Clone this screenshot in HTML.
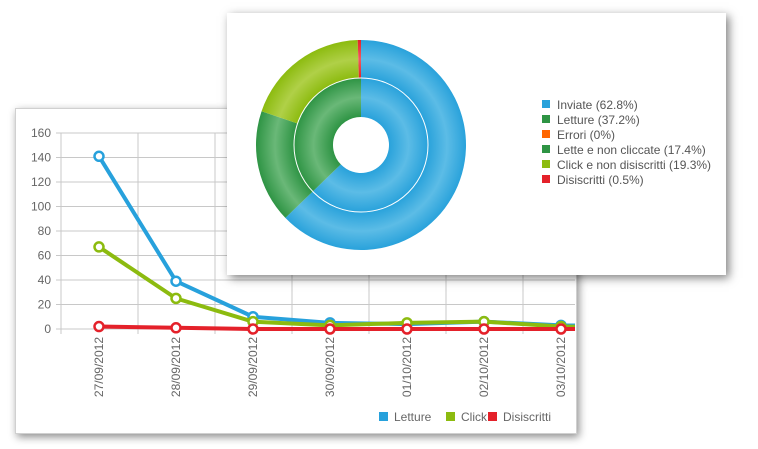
<!DOCTYPE html>
<html><head><meta charset="utf-8">
<style>
body{margin:0;width:758px;height:449px;background:#fff;position:relative;overflow:hidden;font-family:"Liberation Sans",sans-serif}
#line-panel{position:absolute;left:15px;top:108px;width:560px;height:324px;background:#fff;border:1px solid #d0d0d0;box-shadow:2px 3px 8px rgba(0,0,0,.45)}
#pie-panel{position:absolute;left:227px;top:13px;width:499px;height:262px;background:#fff;box-shadow:3px 3px 9px rgba(0,0,0,.5)}
svg text{font-family:"Liberation Sans",sans-serif}
</style></head><body>
<div id="line-panel"></div>
<svg id="line" width="758" height="449" style="position:absolute;left:0;top:0"></svg>
<div id="pie-panel"></div>
<svg id="pie" width="758" height="449" style="position:absolute;left:0;top:0"></svg>
<script>
const categories=["27/09/2012","28/09/2012","29/09/2012","30/09/2012","01/10/2012","02/10/2012","03/10/2012","04/10/2012"];
const letture=[141,39,10,5,4,6,3,2];
const click=[67,25,6,3,5,6,2,1];
const disiscritti=[2,1,0,0,0,0,0,0];
const yTicks=[0,20,40,60,80,100,120,140,160];
const pieLabels=["Inviate (62.8%)","Letture (37.2%)","Errori (0%)","Lette e non cliccate (17.4%)","Click e non disiscritti (19.3%)","Disiscritti (0.5%)"];
const outerValues=[62.8,17.4,19.3,0.5];
const innerValues=[62.8,37.2];

const NS="http://www.w3.org/2000/svg";
function mk(p,t,a){const e=document.createElementNS(NS,t);for(const k in a)e.setAttribute(k,a[k]);p.appendChild(e);return e;}
const L=document.getElementById('line');
const x=i=>99+i*77, y=v=>329-v*1.225;
const cg=mk(L,'g',{});


mk(cg,'clipPath',{id:'cp'});
mk(document.getElementById('cp'),'rect',{x:16,y:109,width:559,height:323});
const g=mk(L,'g',{'clip-path':'url(#cp)'});
yTicks.forEach(t=>{
  const l=mk(g,'line',{x1:56,x2:600,y1:y(t),y2:y(t),stroke:'#c8c8c8','stroke-width':1});
  
  
  const tx=mk(L,'text',{x:51,y:y(t)+4,'text-anchor':'end','font-size':12,fill:'#666'});
  tx.textContent=t;
  
  
});
for(let i=0;i<8;i++){
  const gx=61+i*77;
  const l=mk(g,'line',{x1:gx,x2:gx,y1:y(160),y2:334,stroke:'#c8c8c8','stroke-width':1});
  
  
}
categories.forEach((c,i)=>{
  const t=mk(g,'text',{x:0,y:0,transform:`translate(${x(i)+4},337) rotate(-90)`,'text-anchor':'end','font-size':12,fill:'#666'});
  t.textContent=c;
  
  
});
function series(vals,col,name){
  const p=mk(g,'polyline',{points:vals.map((v,i)=>x(i)+','+y(v)).join(' '),fill:'none',stroke:col,'stroke-width':4,'stroke-linejoin':'round'});
  
  
  vals.forEach((v,i)=>{
    const c=mk(g,'circle',{cx:x(i),cy:y(v),r:4.5,fill:'#fff',stroke:col,'stroke-width':2.5});
    
    
  });
}
series(letture,'#27a1dc','letture');
series(click,'#8cbb0f','click');
series(disiscritti,'#e4212a','disiscritti');
[["Letture",'#27a1dc',379],["Click",'#8cbb0f',446],["Disiscritti",'#e4212a',488]].forEach(([n,c,lx])=>{
  const r=mk(L,'rect',{x:lx,y:412,width:9,height:9,fill:c});
  
  
  const t=mk(L,'text',{x:lx+15,y:421,'font-size':12,fill:'#666'});
  t.textContent=n;
  
  
});

const P=document.getElementById('pie');
const cx=361,cy=145;
const defs=mk(P,'defs',{});
function grad(id,c1,c2,r0,r1){
  const rg=mk(defs,'radialGradient',{id:id,cx:cx,cy:cy,r:r1,gradientUnits:'userSpaceOnUse'});
  const f=r0/r1,m=(1+f)/2;
  mk(rg,'stop',{offset:f,'stop-color':c1});
  mk(rg,'stop',{offset:m,'stop-color':c2});
  mk(rg,'stop',{offset:1,'stop-color':c1});
}
const colsO=[['#29a2db','#5cbce6'],['#2e9444','#6ab878'],['#8cbb0f','#b0d048'],['#e4212a','#f05a60']];
const colsI=[['#29a2db','#5cbce6'],['#2e9444','#6ab878']];
colsO.forEach((c,i)=>grad('go'+i,c[0],c[1],67,105));
colsI.forEach((c,i)=>grad('gi'+i,c[0],c[1],28,67));
function arc(r0,r1,a0,a1){
  const p=(r,a)=>[cx+r*Math.sin(a),cy-r*Math.cos(a)];
  const lg=(a1-a0)>Math.PI?1:0;
  const [x1,y1]=p(r1,a0),[x2,y2]=p(r1,a1),[x3,y3]=p(r0,a1),[x4,y4]=p(r0,a0);
  return `M${x1},${y1}A${r1},${r1} 0 ${lg} 1 ${x2},${y2}L${x3},${y3}A${r0},${r0} 0 ${lg} 0 ${x4},${y4}Z`;
}
function ring(vals,r0,r1,gp,name){
  const tot=vals.reduce((a,b)=>a+b,0);let a=0;
  vals.forEach((v,i)=>{
    const a1=a+v/tot*2*Math.PI;
    const s=mk(P,'path',{d:arc(r0,r1,a,a1),fill:`url(#${gp}${i})`});
    
    
    a=a1;
  });
}
ring(outerValues,67,105,'go','outer-ring');
ring(innerValues,28,67,'gi','inner-ring');
mk(P,'circle',{cx:cx,cy:cy,r:67,fill:'none',stroke:'#fff','stroke-width':1});
const pcols=['#29a2db','#2e9444','#ff6600','#2e9444','#8cbb0f','#e4212a'];
pieLabels.forEach((n,i)=>{
  const yy=105+i*15;
  const r=mk(P,'rect',{x:542,y:yy-5,width:8,height:8,fill:pcols[i]});
  
  
  const t=mk(P,'text',{x:557,y:yy+4,'font-size':12,fill:'#555'});
  t.textContent=n;
  
  
});
</script>
</body></html>
